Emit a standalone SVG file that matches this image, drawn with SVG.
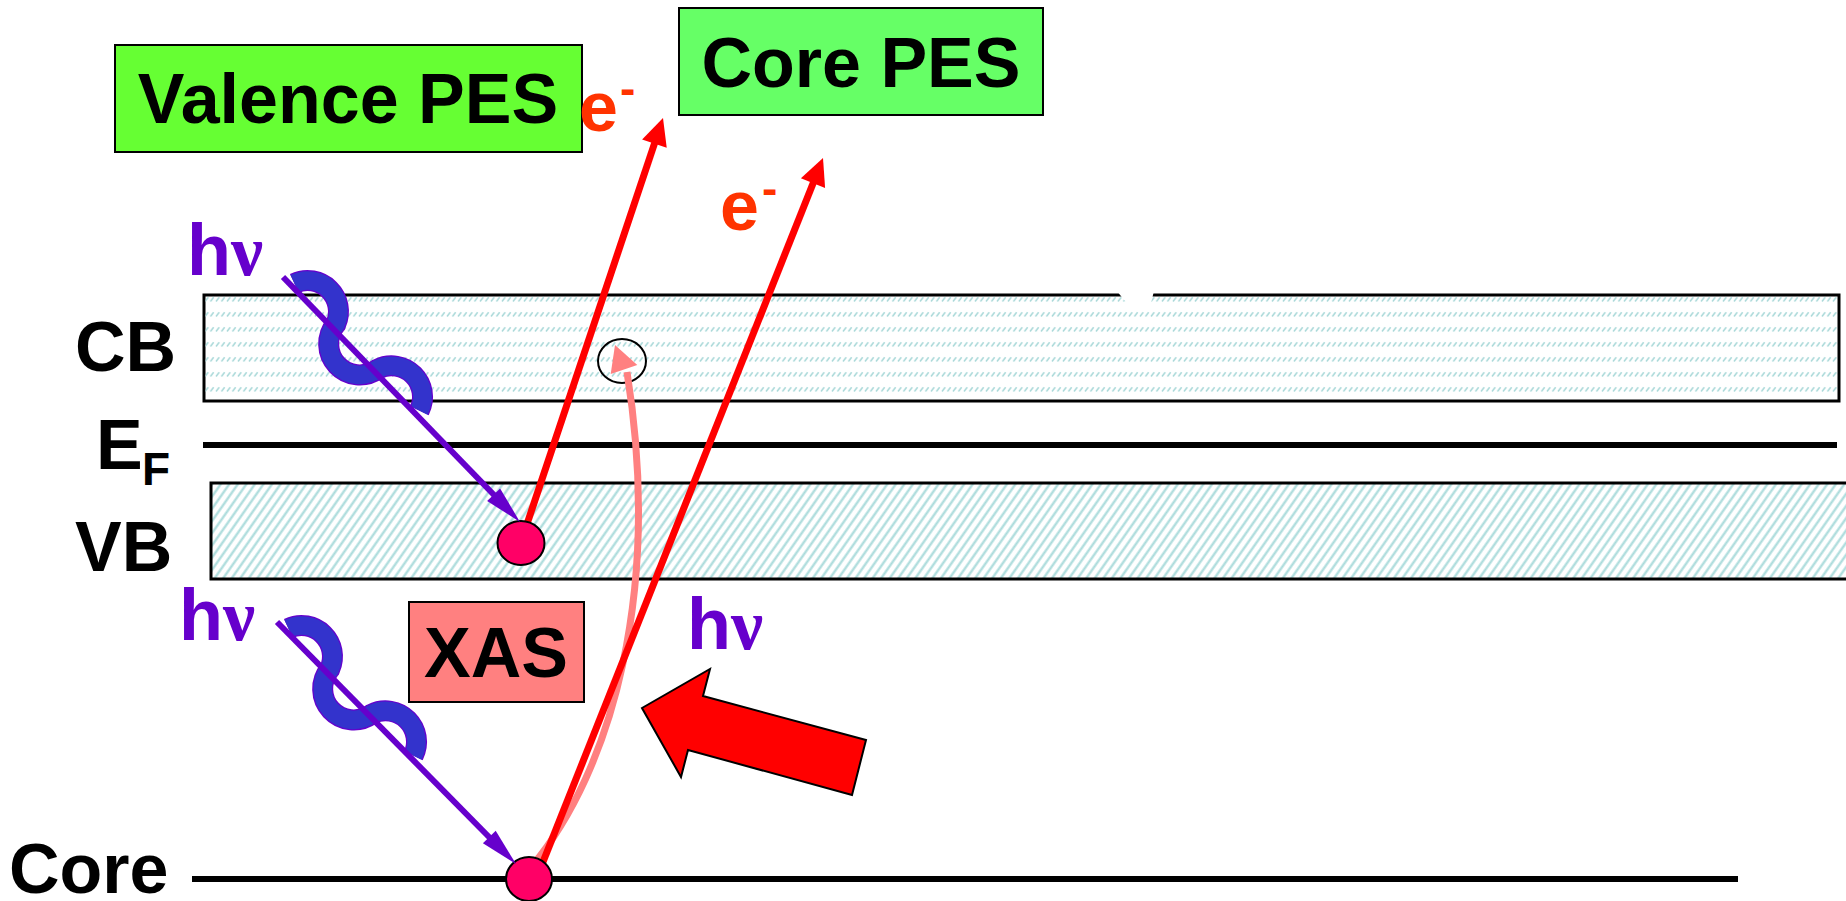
<svg xmlns="http://www.w3.org/2000/svg" width="1846" height="901" viewBox="0 0 1846 901">
<defs>
<style>
.t{font-family:"Liberation Sans",Arial,sans-serif;font-weight:bold;font-size:70px;fill:#000}
.hv{fill:#6600CC;font-size:72px}
.nu{font-family:"Liberation Serif","Times New Roman",serif;font-weight:bold}
.em{fill:#FF3300}
.sup{font-size:46px}
.box{stroke:#000;stroke-width:2}
.band{stroke:#000;stroke-width:3}
.lvl{stroke:#000;stroke-width:6;fill:none}
.red{stroke:#FF0000;stroke-width:7;fill:none}
.redh{fill:#FF0000}
.ph{stroke:#6600CC;stroke-width:6;fill:none}
.phh{fill:#6600CC}
.dot{fill:#FF0066;stroke:#000;stroke-width:2}
.coilo{fill:none;stroke:#6600CC;stroke-width:21}
.coili{fill:none;stroke:#3333CC;stroke-width:18.5}
</style>
<pattern id="cbHatch" patternUnits="userSpaceOnUse" x="204" y="294" width="5.5" height="15">
<line x1="1" y1="7.5" x2="4.2" y2="3.3" stroke="#A8D8D8" stroke-width="1.5"/>
</pattern>
<pattern id="vbHatch" patternUnits="userSpaceOnUse" width="7" height="12" patternTransform="rotate(35)">
<line x1="3.5" y1="-1" x2="3.5" y2="13" stroke="#A8DADA" stroke-width="2.2"/>
</pattern>
<path id="coil" d="M 11.4 6.4 A 31 31 0 0 1 52.8 47.1 A 31 31 0 0 0 94.7 92.1 A 31 31 0 0 1 136.3 133.6"/>
</defs>
<rect width="1846" height="901" fill="#fff"/>

<g id="cb-band">
<rect x="204" y="295" width="1635" height="106" fill="#fff" class="band"/>
<rect x="205.5" y="296.5" width="1632" height="103" fill="url(#cbHatch)"/>
<polygon points="1117,291 1154,291 1151,303 1133,306 1124,300" fill="#fff"/>
<text class="t" x="75" y="371">CB</text>
</g>
<g id="fermi-level">
<line class="lvl" x1="203" y1="445" x2="1837" y2="445"/>
<text class="t" x="96" y="469">E</text>
<text class="t sup" x="142" y="485">F</text>
</g>
<g id="vb-band">
<rect x="211" y="483" width="1650" height="96" fill="url(#vbHatch)" class="band"/>
<text class="t" x="75" y="571">VB</text>
</g>
<g id="core-level">
<line class="lvl" x1="192" y1="879" x2="1738" y2="879"/>
<text class="t" x="9" y="893">Core</text>
</g>

<g id="valence-pes">
<rect x="115" y="45" width="467" height="107" fill="#66FF33" class="box"/>
<text class="t" x="348" y="123" text-anchor="middle">Valence PES</text>
</g>
<g id="core-pes">
<rect x="679" y="8" width="364" height="107" fill="#66FF66" class="box"/>
<text class="t" x="861" y="87" text-anchor="middle">Core PES</text>
</g>
<g id="xas">
<rect x="409" y="602" width="175" height="100" fill="#FF8080" class="box"/>
<text class="t" x="496" y="677" text-anchor="middle">XAS</text>
</g>

<g id="electron-label-1">
<text class="t em" x="579" y="131">e</text>
<text class="t em sup" x="620" y="104">-</text>
</g>
<g id="electron-label-2">
<text class="t em" x="720" y="230">e</text>
<text class="t em sup" x="762" y="204">-</text>
</g>
<g id="photon-label-1"><text class="t hv" x="187" y="275">h<tspan class="nu">ν</tspan></text></g>
<g id="photon-label-2"><text class="t hv" x="179" y="640">h<tspan class="nu">ν</tspan></text></g>
<g id="photon-label-3"><text class="t hv" x="687" y="649">h<tspan class="nu">ν</tspan></text></g>

<g id="hole">
<ellipse cx="622" cy="361" rx="24" ry="22" fill="none" stroke="#000" stroke-width="2"/>
</g>

<g id="connectors">
<path d="M 532 866 C 612 770 662 590 627 372" fill="none" stroke="#FF8080" stroke-width="7"/>
<polygon points="615,345 610.7,374 637.3,365" fill="#FF8080"/>
<line class="red" x1="525" y1="530" x2="655" y2="142"/>
<polygon class="redh" points="663,118 642.1,139.5 666.7,147.7"/>
<line class="red" x1="539" y1="872" x2="814" y2="181"/>
<polygon class="redh" points="823,158 800.9,178.3 825.1,187.9"/>
</g>

<g id="vb-electron"><ellipse class="dot" cx="521" cy="543" rx="23.5" ry="22"/></g>
<g id="core-electron"><ellipse class="dot" cx="529" cy="879" rx="23" ry="22"/></g>

<g id="photon-1">
<g transform="translate(283,277)">
<use href="#coil" class="coilo"/>
<use href="#coil" class="coili"/>
</g>
<line class="ph" x1="283" y1="277" x2="496" y2="497"/>
<polygon class="phh" points="520,522 500.1,488.4 487.1,501"/>
</g>
<g id="photon-2">
<g transform="translate(277,622)">
<use href="#coil" class="coilo"/>
<use href="#coil" class="coili"/>
</g>
<line class="ph" x1="277" y1="622" x2="491" y2="839"/>
<polygon class="phh" points="516,864 495.7,830.7 482.9,843.3"/>
</g>

<g id="incident-arrow">
<polygon points="642,708 710,669 703,696 866,740 852,795 688,750 681,777" fill="#FF0000" stroke="#000" stroke-width="2" stroke-linejoin="miter"/>
</g>
</svg>
